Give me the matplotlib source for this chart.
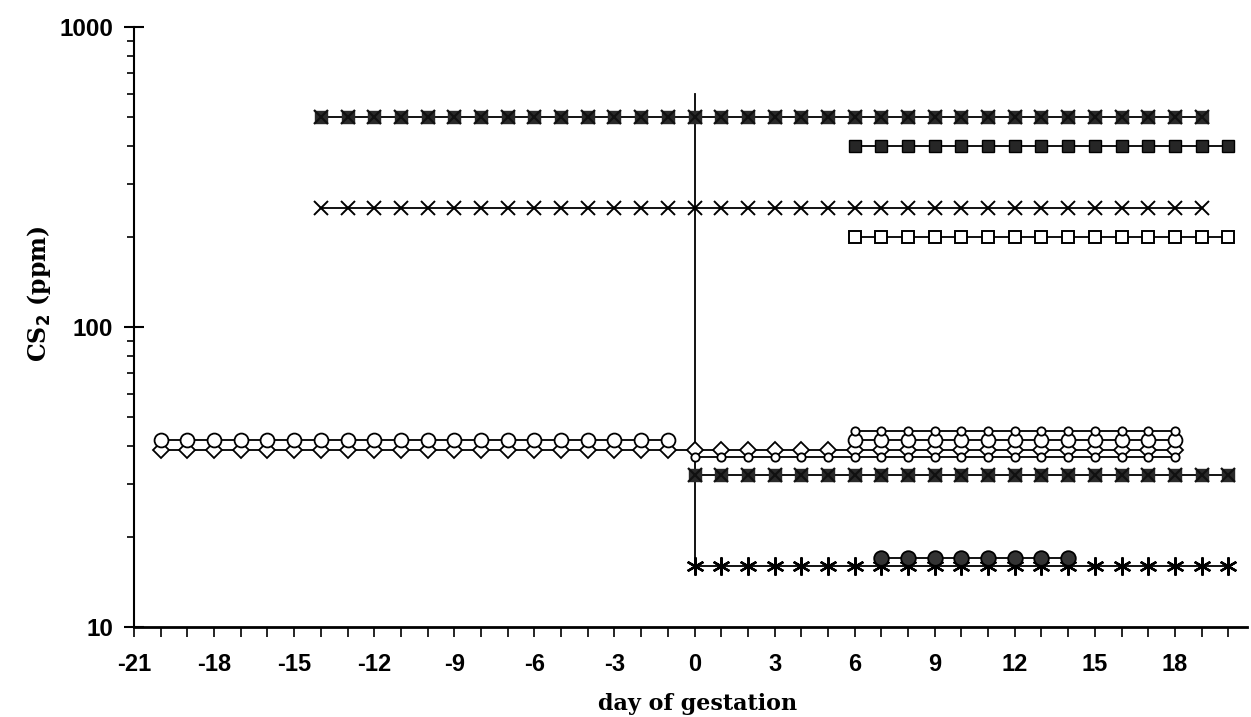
import matplotlib
matplotlib.use("Agg")
import matplotlib.pyplot as plt
from matplotlib.ticker import MultipleLocator, FixedLocator, NullFormatter, FixedFormatter

# ---- data (day of gestation, CS2 ppm) ----
days_xf_500 = list(range(-14, 20))
vals_xf_500 = [500] * len(days_xf_500)

days_sqf_400 = list(range(6, 21))
vals_sqf_400 = [400] * len(days_sqf_400)

days_x_250 = list(range(-14, 20))
vals_x_250 = [250] * len(days_x_250)

days_sq_200 = list(range(6, 21))
vals_sq_200 = [200] * len(days_sq_200)

days_circ_pre = list(range(-20, 0))
vals_circ_pre = [42] * len(days_circ_pre)

days_diam = list(range(-20, 19))
vals_diam = [39] * len(days_diam)

days_small_45 = list(range(6, 19))
vals_small_45 = [45] * len(days_small_45)

days_circ_post = list(range(6, 19))
vals_circ_post = [42] * len(days_circ_post)

days_small_37 = list(range(0, 19))
vals_small_37 = [37] * len(days_small_37)

days_xf_32 = list(range(0, 21))
vals_xf_32 = [32] * len(days_xf_32)

days_circf_17 = list(range(7, 15))
vals_circf_17 = [17] * len(days_circf_17)

days_ast_16 = list(range(0, 21))
vals_ast_16 = [16] * len(days_ast_16)

marker_line_day = [0, 0]
marker_line_vals = [16, 600]

xtick_vals = list(range(-21, 19, 3))
ytick_vals = [10, 100, 1000]
ytick_labels = ["10", "100", "1000"]

# ---- figure ----
fig = plt.figure(figsize=(12.51, 7.17), dpi=100)
ax = fig.add_axes([134/1251, 1-627/717, (1247-134)/1251, (627-27)/717])
ax.set_yscale("log")
ax.set_xlim(-21, 20.7)
ax.set_ylim(10, 1000)

lw = 1.3
k = "black"

# vertical reference line at day 0
ax.plot(marker_line_day, marker_line_vals, color=k, lw=1.3, zorder=1)

# filled X (bow-tie) series
def filled_x(x, y):
    ax.plot(x, y, color=k, lw=lw, marker="s", ms=8, mfc="#2a2a2a", mec="#2a2a2a", zorder=3)
    ax.plot(x, y, ls="none", marker="x", ms=10, mew=1.6, mec="#111111", zorder=4)

filled_x(days_xf_500, vals_xf_500)
filled_x(days_xf_32, vals_xf_32)

ax.plot(days_sqf_400, vals_sqf_400, color=k, lw=lw, marker="s", ms=9,
        mfc="#262626", mec=k, mew=1.0, zorder=3)
ax.plot(days_x_250, vals_x_250, color=k, lw=lw, marker="x", ms=10, mew=1.4, mec=k, zorder=3)
ax.plot(days_sq_200, vals_sq_200, color=k, lw=lw, marker="s", ms=9,
        mfc="white", mec=k, mew=1.4, zorder=3)

ax.plot(days_diam, vals_diam, color=k, lw=lw, marker="D", ms=8.5,
        mfc="white", mec=k, mew=1.3, zorder=3)
ax.plot(days_circ_pre, vals_circ_pre, color=k, lw=lw, marker="o", ms=10,
        mfc="white", mec=k, mew=1.3, zorder=4)
ax.plot(days_circ_post, vals_circ_post, color=k, lw=lw, marker="o", ms=10,
        mfc="white", mec=k, mew=1.3, zorder=4)
ax.plot(days_small_45, vals_small_45, color=k, lw=lw, marker="o", ms=6,
        mfc="white", mec=k, mew=1.3, zorder=5)
ax.plot(days_small_37, vals_small_37, color=k, lw=lw, marker="o", ms=6,
        mfc="white", mec=k, mew=1.3, zorder=5)

ax.plot(days_ast_16, vals_ast_16, color=k, lw=lw, marker=(6, 2, 0), ms=13,
        mec=k, mew=1.7, zorder=3)
ax.plot(days_circf_17, vals_circf_17, color=k, lw=lw, marker="o", ms=10.5,
        mfc="#333333", mec=k, mew=1.3, zorder=4)

# ---- axes styling ----
for s in ["top", "right"]:
    ax.spines[s].set_visible(False)
ax.spines["left"].set_linewidth(1.5)
ax.spines["bottom"].set_linewidth(2.0)

ax.xaxis.set_major_locator(FixedLocator(xtick_vals))
ax.xaxis.set_minor_locator(MultipleLocator(1))
ax.tick_params(axis="x", which="both", direction="out", length=7, width=1.2, pad=12)
ax.set_xticklabels([str(v) for v in xtick_vals], fontsize=17, fontweight="bold",
                   family="Liberation Sans")

ax.yaxis.set_major_locator(FixedLocator(ytick_vals))
ax.yaxis.set_major_formatter(FixedFormatter(ytick_labels))
ax.yaxis.set_minor_formatter(NullFormatter())
ax.tick_params(axis="y", which="major", direction="inout", length=14, width=1.5, pad=8)
ax.tick_params(axis="y", which="minor", direction="out", length=5, width=1.2)
for t in ax.get_yticklabels():
    t.set_fontsize(17.5)
    t.set_fontweight("bold")
    t.set_family("Liberation Sans")

ax.set_xlabel("day of gestation", fontsize=16, fontweight="bold", family="DejaVu Serif",
              labelpad=12)
ax.xaxis.set_label_coords(0.506, -0.11)
ax.set_ylabel("CS$_\\mathbf{2}$ (ppm)", fontsize=17, fontweight="bold", family="DejaVu Serif")
ax.yaxis.set_label_coords(-0.073, 0.555)

fig.savefig("out.png", dpi=100)
